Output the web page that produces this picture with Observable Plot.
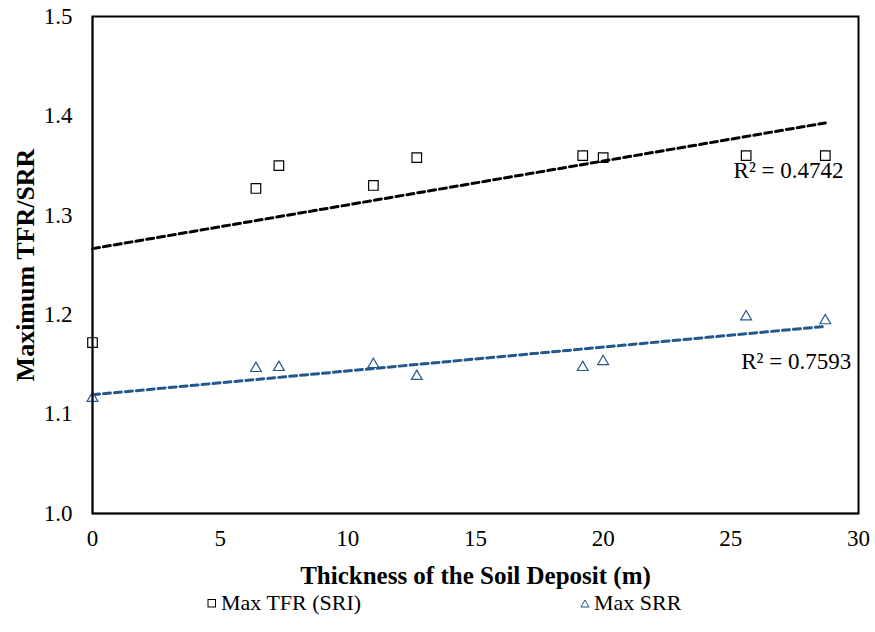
<!DOCTYPE html>
<html>
<head>
<meta charset="utf-8">
<script src="https://cdn.jsdelivr.net/npm/d3@7"></script>
<script src="https://cdn.jsdelivr.net/npm/@observablehq/plot@0.6"></script>
<style>
  body { margin: 0; background: #fff; font-family: "Liberation Serif", "Times New Roman", serif; }
  #chart { width: 875px; }
  .legend { position: relative; width: 875px; height: 38px; font-size: 22px; color: #000; }
  .legend .item { position: absolute; top: -3px; line-height: 24px; display: flex; align-items: center; white-space: nowrap; }
  .legend svg { margin-right: 4px; }
</style>
</head>
<body>
<div id="chart"></div>
<div class="legend" id="legend"></div>
<script>
// Soil deposit thickness (m) for each site
const thickness = [0, 6.4, 7.3, 11.0, 12.7, 19.2, 20.0, 25.6, 28.7];
// Maximum TFR (SRI) per site
const maxTFR = [1.172, 1.327, 1.350, 1.330, 1.358, 1.360, 1.358, 1.360, 1.360];
// Maximum SRR per site
const maxSRR = [1.116, 1.146, 1.147, 1.150, 1.138, 1.147, 1.153, 1.198, 1.194];
// Reported coefficients of determination for the two linear trends
const r2TFR = "0.4742";
const r2SRR = "0.7593";
// Axis ticks
const xTicks = [0, 5, 10, 15, 20, 25, 30];
const yTicks = [1.0, 1.1, 1.2, 1.3, 1.4, 1.5];
const seriesNames = ["Max TFR (SRI)", "Max SRR"];

const blue = "#24578a";
const serif = "'Liberation Serif', 'Times New Roman', serif";
const tfr = thickness.map((t, i) => ({t, v: maxTFR[i]}));
const srr = thickness.map((t, i) => ({t, v: maxSRR[i]}));

const chart = Plot.plot({
  width: 875,
  height: 594,
  marginLeft: 92,
  marginRight: 17,
  marginTop: 16,
  marginBottom: 81,
  style: {fontFamily: serif, background: "#fff", color: "#000"},
  x: {domain: [0, 30]},
  y: {domain: [1.0, 1.5]},
  marks: [
    Plot.axisX({ticks: xTicks, tickSize: 0, tickPadding: 16, fontSize: 23, fontFamily: serif, label: null}),
    Plot.axisY({ticks: yTicks, tickSize: 0, tickPadding: 20, fontSize: 23, fontFamily: serif, tickFormat: d3.format(".1f"), label: null}),
    Plot.linearRegressionY(tfr, {x: "t", y: "v", ci: 0, stroke: "#000", strokeWidth: 3, strokeDasharray: "7,4"}),
    Plot.linearRegressionY(srr, {x: "t", y: "v", ci: 0, stroke: blue, strokeWidth: 3, strokeDasharray: "7,4"}),
    Plot.dot(tfr, {x: "t", y: "v", symbol: "square", r: 5.4, stroke: "#000", strokeWidth: 1.2, fill: "none"}),
    Plot.dot(srr, {x: "t", y: "v", symbol: "triangle", r: 4, stroke: blue, strokeWidth: 1.2, fill: "none"}),
    Plot.text([`R² = ${r2TFR}`], {x: 27.26, y: 1.345, fontSize: 23, fontFamily: serif, textAnchor: "middle"}),
    Plot.text([`R² = ${r2SRR}`], {x: 27.56, y: 1.153, fontSize: 23, fontFamily: serif, textAnchor: "middle"}),
    Plot.text(["Thickness of the Soil Deposit (m)"], {frameAnchor: "bottom", lineAnchor: "middle", textAnchor: "middle", dy: 62, fontSize: 25, fontFamily: serif, fontWeight: "bold"}),
    Plot.text(["Maximum TFR/SRR"], {frameAnchor: "left", lineAnchor: "middle", textAnchor: "middle", dx: -67, rotate: -90, fontSize: 26, fontFamily: serif, fontWeight: "bold"}),
    Plot.ruleX([0], {stroke: "#808080", strokeWidth: 2}),
    Plot.ruleY([1.0], {stroke: "#808080", strokeWidth: 2}),
    Plot.frame({stroke: "#000", strokeWidth: 2})
  ]
});
document.getElementById("chart").append(chart);

// Legend below the plot
const legend = document.getElementById("legend");
const symbols = [
  `<svg width="10" height="10"><rect x="1" y="1.5" width="7.5" height="7.5" fill="none" stroke="#000" stroke-width="1"/></svg>`,
  `<svg width="10" height="10"><path d="M5,2 L9,9 L1,9 Z" fill="none" stroke="${blue}" stroke-width="1"/></svg>`
];
const lefts = [207, 580];
seriesNames.forEach((name, i) => {
  const item = document.createElement("div");
  item.className = "item";
  item.style.left = lefts[i] + "px";
  item.innerHTML = symbols[i] + `<span>${name}</span>`;
  legend.append(item);
});
</script>
</body>
</html>
